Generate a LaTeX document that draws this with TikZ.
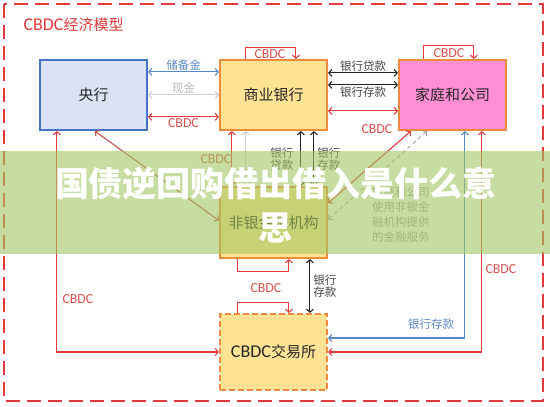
\documentclass[tikz,border=0pt]{standalone}
\usepackage{fontspec}
\setmainfont{Noto Sans CJK SC}
\newfontfamily\lat[Scale=1.2]{Carlito}
\usetikzlibrary{arrows.meta,calc}
\definecolor{cred}{HTML}{E2393C}
\definecolor{clab}{HTML}{D9534F}
\definecolor{cblue}{HTML}{4472C4}
\definecolor{cblue2}{HTML}{5A87C6}
\definecolor{cgrey}{HTML}{CFCFCF}
\definecolor{cgreyd}{HTML}{A0A0A0}
\definecolor{cgreytext}{HTML}{A0A0A0}
\definecolor{cdark}{HTML}{222222}
\definecolor{ctext}{HTML}{444444}
\definecolor{corange}{HTML}{EE8A3E}
\definecolor{cyellow}{HTML}{FFE394}
\definecolor{cpink}{HTML}{FF8ED3}
\definecolor{cbluefill}{HTML}{DAE3F3}
\definecolor{cbrown}{HTML}{C0504D}
\definecolor{cbanner}{RGB}{163,197,97}
\begin{document}
\begin{tikzpicture}[x=1pt,y=-1pt,
  >={Straight Barb[length=3pt,width=7pt]},
  box/.style={draw, line width=2.2pt, minimum width=107pt, minimum height=70pt, inner sep=0pt, text=black!85, font=\fontsize{15}{18}\selectfont},
  conn/.style={line width=1.1pt},
  lab/.style={font=\fontsize{11.5}{12.5}\selectfont, inner sep=1pt}
]
\useasboundingbox (0,0) rectangle (550,407);
\fill[white] (0,0) rectangle (550,407);
\draw[cred, line width=2pt, dash pattern=on 14pt off 7pt] (4,4) rectangle (543,401);
\node[anchor=west, text=cred, font=\fontsize{15}{18}\selectfont] (title) at (20,25) {{\lat CBDC}经济模型};

% boxes
\node[box, draw=cblue, fill=cbluefill] (cb) at (93.5,95) {央行};
\node[box, draw=corange, fill=cyellow] (sb) at (273.5,95) {商业银行};
\node[box, draw=corange, fill=cpink] (jt) at (452.5,95) {家庭和公司};
\node[box, draw=corange, fill=cyellow, minimum height=71pt] (fy) at (273.5,222.5) {非银金融机构};
\node[box, draw=corange, fill=cyellow, dash pattern=on 6pt off 3pt, minimum height=76pt] (jys) at (273.5,352) {{\lat CBDC}交易所};

% central bank - commercial bank
\draw[conn, cblue2, <->] ($(cb.north east)+(0,13)$) -- node[lab, above, text=cblue2]{储备金} ($(sb.north west)+(0,13)$);
\draw[conn, cgrey, <->] ($(cb.north east)+(0,36)$) -- node[lab, above, text=cgrey!90!black]{现金} ($(sb.north west)+(0,36)$);
\draw[conn, cred, <->] ($(cb.north east)+(0,58)$) -- node[lab, below, text=clab]{\lat CBDC} ($(sb.north west)+(0,58)$);

% commercial bank - households
\draw[conn, cdark, <->] ($(sb.north east)+(0,14)$) -- node[lab, above, text=ctext]{银行贷款} ($(jt.north west)+(0,14)$);
\draw[conn, cdark, <->] ($(sb.north east)+(0,26)$) -- node[lab, below, text=ctext]{银行存款} ($(jt.north west)+(0,26)$);
\draw[conn, cred, <->] ($(sb.north east)+(0,52)$) -- ($(jt.north west)+(0,52)$);
\node[lab, text=clab] (l1) at ($(jt.south west)+(-21,-2)$) {\lat CBDC};

% self loops
\draw[conn, cred, ->] ($(sb.north west)+(27,0)$) -- ++(0,-11) -| ($(sb.north west)+(77,0)$);
\node[lab, text=clab] (l2) at ($(sb.north west)+(51,-5)$) {\lat CBDC};
\draw[conn, cred, ->] ($(jt.north west)+(26,0)$) -- ++(0,-13) -| ($(jt.north west)+(76,0)$);
\node[lab, text=clab] (l3) at ($(jt.north west)+(51,-6)$) {\lat CBDC};
\draw[conn, cred, ->] ($(fy.south west)+(19,0)$) -- ++(0,12) -| ($(fy.south west)+(70,0)$);
\node[lab, text=clab] (l4) at ($(fy.south west)+(47,29)$) {\lat CBDC};
\draw[conn, cred, ->] ($(jys.north west)+(19,0)$) -- ++(0,-10) -| ($(jys.north west)+(70,0)$);

% commercial bank - non-bank
\draw[conn, cred, <->] ($(fy.north west)+(13,0)$) -- ($(sb.south west)+(13,0)$);
\node[lab, text=clab] (l5) at ($(sb.south west)+(-3,28)$) {\lat CBDC};
\draw[conn, cgrey, <->] ($(fy.north west)+(27,0)$) -- ($(sb.south west)+(27,0)$);
\draw[conn, cdark, <->] ($(fy.north west)+(82,0)$) -- ($(sb.south west)+(82,0)$);
\draw[conn, cdark, <->] ($(fy.north west)+(95,0)$) -- ($(sb.south west)+(95,0)$);
\node[lab, align=center, text=ctext] (l6) at ($(sb.south west)+(63,28)$) {银行\\贷款};
\node[lab, align=center, text=ctext] (l7) at ($(sb.south west)+(110,28)$) {银行\\存款};

% non-bank - exchange
\draw[conn, cdark, <->] ($(fy.south west)+(91,0)$) -- ($(jys.north west)+(91,0)$);
\node[lab, align=center, text=ctext] (l8) at ($(fy.south west)+(106,27)$) {银行\\存款};

% long connectors to exchange
\draw[conn, cred, <->] (jys.west) -| ($(cb.south west)+(18,0)$);
\node[lab, text=clab] (l9) at ($(cb.south west)+(39,168)$) {\lat CBDC};
\draw[conn, cred, <->] (jys.east) -| ($(jt.south west)+(84,0)$);
\node[lab, text=clab] (l10) at ($(jt.south west)+(103,138)$) {\lat CBDC};
\draw[conn, cblue2, <->] ($(jys.east)+(0,-14)$) -| ($(jt.south west)+(67,0)$);
\node[lab, text=cblue2] (l11) at ($(jys.east)+(103,-28)$) {银行存款};

% diagonals
\draw[conn, cbrown, <->] ($(cb.south west)+(56,0)$) -- ($(fy.west)+(0,-2)$);
\draw[conn, cred, <->] ($(jt.south west)+(13,0)$) -- ($(fy.east)+(0,-19.5)$);
\draw[line width=0.9pt, cgreyd, dash pattern=on 4pt off 3pt, <->] ($(jt.south west)+(29,0)$) -- ($(fy.east)+(0,-3)$);
\node[anchor=north west, align=left, text=cgreytext, font=\fontsize{11.5}{15}\selectfont, inner sep=0pt] (note) at (372,187) {家庭和公司\\使用非银金\\融机构提供\\的金融服务};

% banner
\fill[cbanner, opacity=0.6] (0,151) rectangle (550,254);
\node[text=white, font=\fontsize{34}{44}\selectfont\bfseries, align=center, inner sep=0pt] (banner) at (276,205) {国债逆回购借出借入是什么意\\思};
\end{tikzpicture}
\end{document}
